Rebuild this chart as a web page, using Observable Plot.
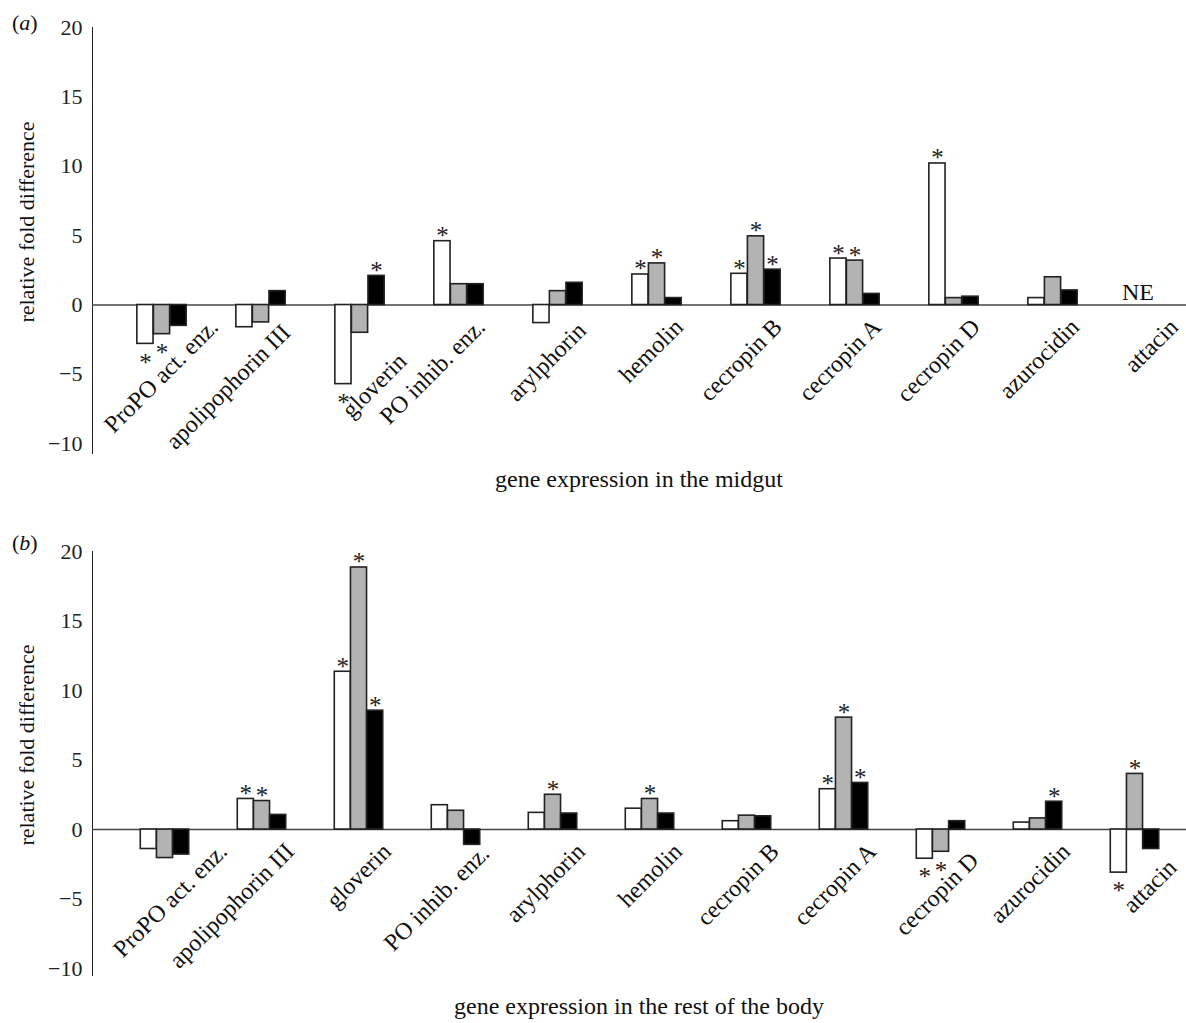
<!DOCTYPE html>
<html><head><meta charset="utf-8">
<script src="https://cdn.jsdelivr.net/npm/d3@7"></script>
<script src="https://cdn.jsdelivr.net/npm/@observablehq/plot@0.6"></script>
<style>
html,body{margin:0;padding:0;background:#fff;}
body{width:1186px;height:1023px;overflow:hidden;position:relative;font-family:"Liberation Serif",serif;color:#111;}
.panel{position:absolute;left:0;}
.tag{position:absolute;font-size:22px;line-height:22px;}
.xtitle{position:absolute;left:92px;width:1094px;text-align:center;font-size:24px;line-height:24px;}
.ylabel{position:absolute;font-size:22px;line-height:22px;white-space:nowrap;transform:translate(-50%,-50%) rotate(-90deg);}
</style></head>
<body>
<div id="pa" class="panel" style="top:0px"></div>
<div class="tag" style="left:12px;top:12px">(<i>a</i>)</div>
<div class="ylabel" style="left:27px;top:222px">relative fold difference</div>
<div class="xtitle" style="top:467px">gene expression in the midgut</div>
<div id="pb" class="panel" style="top:520px"></div>
<div class="tag" style="left:12px;top:532px">(<i>b</i>)</div>
<div class="ylabel" style="left:27px;top:745px">relative fold difference</div>
<div class="xtitle" style="top:994px">gene expression in the rest of the body</div>
<script>
const genes = ["ProPO act. enz.", "apolipophorin III", "gloverin", "PO inhib. enz.", "arylphorin", "hemolin", "cecropin B", "cecropin A", "cecropin D", "azurocidin", "attacin"];
const seriesKeys = ["white", "grey", "black"];
const seriesFills = ["#ffffff", "#b3b3b3", "#000000"];
const yTicks = [-10, -5, 0, 5, 10, 15, 20];

// (a) midgut
const midgutWhite = [-2.8, -1.6, -5.7, 4.6, -1.3, 2.2, 2.25, 3.35, 10.2, 0.5, null];
const midgutGrey  = [-2.1, -1.25, -2.0, 1.5, 1.0, 3.0, 4.95, 3.2, 0.5, 2.0, null];
const midgutBlack = [-1.5, 1.0, 2.1, 1.5, 1.6, 0.5, 2.55, 0.8, 0.6, 1.05, null];
const midgutWhiteSig = [1, 0, 1, 1, 0, 1, 1, 1, 1, 0, 0];
const midgutGreySig  = [1, 0, 0, 0, 0, 1, 1, 1, 0, 0, 0];
const midgutBlackSig = [0, 0, 1, 0, 0, 0, 1, 0, 0, 0, 0];
const midgutNoteGenes = ["attacin"];
const midgutNoteTexts = ["NE"];

// (b) rest of the body
const bodyWhite = [-1.4, 2.2, 11.35, 1.75, 1.2, 1.5, 0.6, 2.9, -2.1, 0.5, -3.1];
const bodyGrey  = [-2.05, 2.05, 18.85, 1.35, 2.5, 2.2, 1.0, 8.05, -1.6, 0.8, 4.0];
const bodyBlack = [-1.8, 1.05, 8.55, -1.1, 1.15, 1.15, 0.95, 3.35, 0.6, 2.0, -1.4];
const bodyWhiteSig = [0, 1, 1, 0, 0, 0, 0, 1, 1, 0, 1];
const bodyGreySig  = [0, 1, 1, 0, 1, 1, 0, 1, 1, 0, 1];
const bodyBlackSig = [0, 0, 1, 0, 0, 0, 0, 1, 0, 1, 0];

function rowsOf(values, sigs) {
  return genes.flatMap((gene, i) => values.map((v, j) => ({gene, series: seriesKeys[j], value: v[i], sig: sigs[j][i]})))
    .filter(d => d.value != null);
}

function drawPanel({values, sigs, xRange, yDomain, height, marginTop, marginBottom, labelDx, notes}) {
  const rows = rowsOf(values, sigs);
  const step = (xRange[1] - xRange[0]) / genes.length;
  const w = step / 6;
  const marks = [Plot.ruleY([0], {stroke: "#444", strokeWidth: 1.5})];
  seriesKeys.forEach((key, j) => {
    const insetLeft = 1.5 * w + j * w;
    const insetRight = step - insetLeft - w;
    marks.push(Plot.barY(rows, {filter: d => d.series === key, x: "gene", y: "value", fill: seriesFills[j], stroke: "#222", strokeWidth: 1.6, insetLeft, insetRight}));
    const dx = (j - 1) * w;
    marks.push(Plot.text(rows, {filter: d => d.series === key && d.sig && d.value > 0, x: "gene", y: "value", text: () => "*", dx, dy: 3, lineAnchor: "bottom", fontSize: 25, fill: "#222"}));
    marks.push(Plot.text(rows, {filter: d => d.series === key && d.sig && d.value < 0, x: "gene", y: "value", text: () => "*", dx, dy: 9, lineAnchor: "top", fontSize: 25, fill: "#222"}));
  });
  // gene labels: a group entirely below zero slides its label right; otherwise the label drops with the group's depth
  genes.forEach((gene, i) => {
    const vals = values.map(v => v[i] ?? 0);
    const allNeg = vals.every(v => v < 0);
    const s = 7 * Math.max(0, -Math.min(...vals) - 0.8);
    const sx = allNeg ? 30 : 0.6 * s;
    const sy = allNeg ? 0 : s;
    marks.push(Plot.text([gene], {x: d => d, y: 0, text: d => d, rotate: -45, textAnchor: "end", dx: labelDx + sx, dy: 18 + sy, fontSize: 24, fill: "#111"}));
  });
  if (notes) marks.push(Plot.text(notes, {x: "gene", y: 0, text: "note", lineAnchor: "bottom", dx: -14, dy: -5, fontSize: 24, fill: "#111"}));
  return Plot.plot({
    width: 1186, height, marginTop, marginBottom, marginLeft: 92, marginRight: 0,
    style: {fontFamily: '"Liberation Serif", serif', fontSize: "22px", color: "#222", background: "transparent"},
    x: {type: "band", domain: genes, range: xRange, padding: 0, axis: null},
    y: {domain: yDomain, ticks: yTicks, tickSize: 0, tickPadding: 10, line: true, label: null},
    marks
  });
}

document.getElementById("pa").append(drawPanel({
  values: [midgutWhite, midgutGrey, midgutBlack],
  sigs: [midgutWhiteSig, midgutGreySig, midgutBlackSig],
  xRange: [110, 1203], yDomain: [-10.7, 20], height: 460, marginTop: 27, marginBottom: 7, labelDx: 22,
  notes: midgutNoteGenes.map((gene, i) => ({gene, note: midgutNoteTexts[i]}))
}));
document.getElementById("pb").append(drawPanel({
  values: [bodyWhite, bodyGrey, bodyBlack],
  sigs: [bodyWhiteSig, bodyGreySig, bodyBlackSig],
  xRange: [115, 1183], yDomain: [-10.5, 20], height: 460, marginTop: 31, marginBottom: 5, labelDx: 28
}));
</script>
</body></html>
